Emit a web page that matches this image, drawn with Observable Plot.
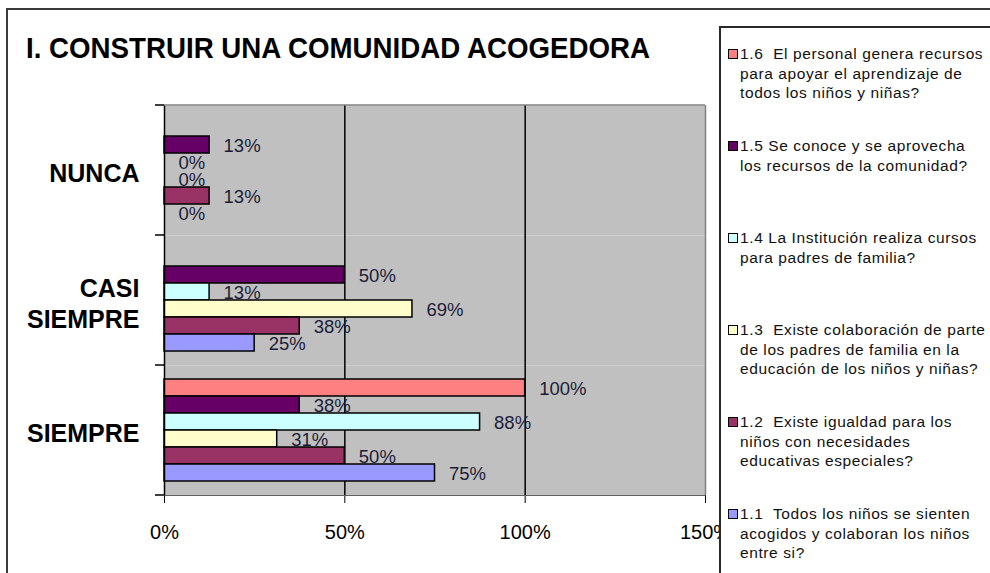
<!DOCTYPE html>
<html>
<head>
<meta charset="utf-8">
<script src="https://cdn.jsdelivr.net/npm/d3@7"></script>
<script src="https://cdn.jsdelivr.net/npm/@observablehq/plot@0.6"></script>
<style>
  html, body { margin: 0; padding: 0; background: #fff; }
  #wrap { position: relative; width: 990px; height: 573px; overflow: hidden; font-family: "Liberation Sans", Arial, sans-serif; }
  #frame { position: absolute; left: 6px; top: 8px; width: 1100px; height: 700px; border: 2px solid #3a3a3a; }
  #chart { position: absolute; left: 0; top: 0; }
  #title { position: absolute; left: 26px; top: 33px; font-size: 29.5px; line-height: 29px; font-weight: bold; white-space: nowrap; color: #000; transform-origin: 0 0; }
  #legend { position: absolute; left: 719px; top: 26px; width: 400px; height: 700px; border: 2px solid #2a2a2a; background: #fff; }
  .item { position: absolute; left: 0; height: 92px; width: 300px; }
  .item .sw { position: absolute; left: 7px; top: 5px; width: 8px; height: 8px; border: 1px solid #000; }
  .item .tx { position: absolute; left: 19px; top: 0; font-size: 15.5px; line-height: 19.5px; letter-spacing: 0.6px; white-space: pre; color: #111; }
</style>
</head>
<body>
<div id="wrap">
  <div id="frame"></div>
  <div id="chart"></div>
  <div id="title"></div>
  <div id="legend"></div>
</div>
<script>
// ---- data ----
const titleText = "I. CONSTRUIR UNA COMUNIDAD ACOGEDORA";
const categories = ["NUNCA", "CASI SIEMPRE", "SIEMPRE"];
const seriesKeys = ["1.6", "1.5", "1.4", "1.3", "1.2", "1.1"];
const seriesColors = ["#FF8080", "#660066", "#CCFFFF", "#FFFFCC", "#993366", "#9999FF"];
// values per category: NUNCA, CASI SIEMPRE, SIEMPRE (percent)
const values16 = [null, null, 100];
const values15 = [12.5, 50, 37.5];
const values14 = [0, 12.5, 87.5];
const values13 = [0, 68.75, 31.25];
const values12 = [12.5, 37.5, 50];
const values11 = [0, 25, 75];
const seriesValues = [values16, values15, values14, values13, values12, values11];
const xTicks = [0, 50, 100, 150];
const legendLines = [
  ["1.6  El personal genera recursos", "para apoyar el aprendizaje de", "todos los niños y niñas?"],
  ["1.5 Se conoce y se aprovecha", "los recursos de la comunidad?"],
  ["1.4 La Institución realiza cursos", "para padres de familia?"],
  ["1.3  Existe colaboración de parte", "de los padres de familia en la", "educación de los niños y niñas?"],
  ["1.2  Existe igualdad para los", "niños con necesidades", "educativas especiales?"],
  ["1.1  Todos los niños se sienten", "acogidos y colaboran los niños", "entre si?"]
];

// ---- table ----
const rows = [];
categories.forEach((c, i) => {
  seriesKeys.forEach((s, j) => {
    const v = seriesValues[j][i];
    if (v != null) rows.push({category: c, series: s, value: v});
  });
});

const chart = Plot.plot({
  width: 720,
  height: 573,
  marginLeft: 164,
  marginRight: 15,
  marginTop: 105,
  marginBottom: 78,
  style: {background: "transparent", fontFamily: "'Liberation Sans', Arial, sans-serif", fontSize: "20px", color: "#000"},
  x: {domain: [0, 150], ticks: xTicks, tickFormat: d => d + "%", tickSize: 8, tickPadding: 21, line: true, label: null},
  y: {domain: seriesKeys, paddingInner: 0, paddingOuter: 0.78, axis: null},
  fy: {domain: categories, padding: 0, axis: null},
  color: {domain: seriesKeys, range: seriesColors},
  marks: [
    Plot.frame({fill: "#C0C0C0", stroke: "none"}),
    Plot.ruleX(xTicks.filter(t => t > 0 && t < 150), {stroke: "#000", strokeWidth: 1.5}),
    Plot.ruleX([150], {stroke: "#808080", strokeWidth: 1.5}),
    Plot.barX(rows, {fy: "category", y: "series", x: "value", fill: "series", stroke: "#000", strokeWidth: 1.5}),
    Plot.ruleX([0], {stroke: "#000", strokeWidth: 1.5}),
    Plot.text(rows, {fy: "category", y: "series", x: "value", text: d => Math.round(d.value) + "%", dx: 14, dy: 1, textAnchor: "start", fontSize: 18.5, fill: "#1c1c38"}),
    Plot.text(categories, {fy: d => d, text: d => d.replace(" ", "\n"), frameAnchor: "left", dx: -25, dy: 2, textAnchor: "end", fontSize: 25, fontWeight: "bold", lineHeight: 1.24, fill: "#000"})
  ]
});
document.getElementById("chart").appendChild(chart);

// category boundary ticks and top border of plot area, from the plot's scales
try {
  const fy = chart.scale("fy");
  const xs = chart.scale("x");
  const doms = fy.domain;
  const r = fy.range;
  const step = (r[1] - r[0]) / doms.length;
  const pos = c => (fy.apply ? fy.apply(c) : r[0] + doms.indexOf(c) * step);
  const bw = fy.bandwidth != null ? fy.bandwidth : step;
  const x0 = xs.apply ? xs.apply(0) : 164;
  const x1 = xs.apply ? xs.apply(150) : 705;
  const svg = d3.select(chart);
  const g = svg.append("g");
  const bounds = doms.map(pos).concat([pos(doms[doms.length - 1]) + bw]);
  g.selectAll("line.tk").data(bounds).join("line")
    .attr("x1", x0 - 9).attr("x2", x0).attr("y1", d => d).attr("y2", d => d)
    .attr("stroke", "#000").attr("stroke-width", 1.5);
  g.append("line").attr("x1", x0).attr("x2", x1).attr("y1", bounds[0]).attr("y2", bounds[0])
    .attr("stroke", "#808080").attr("stroke-width", 1.5);
} catch (e) { console.error(e); }

// title
const title = document.getElementById("title");
title.textContent = titleText;
const tw = title.getBoundingClientRect().width;
title.style.transform = "scaleX(" + (624 / tw) + ")";

// legend
const legend = document.getElementById("legend");
seriesKeys.forEach((s, i) => {
  const it = document.createElement("div");
  it.className = "item";
  it.style.top = (16 + i * 92) + "px";
  const sw = document.createElement("div");
  sw.className = "sw";
  sw.style.background = seriesColors[i];
  const tx = document.createElement("div");
  tx.className = "tx";
  tx.textContent = legendLines[i].join("\n");
  it.appendChild(sw);
  it.appendChild(tx);
  legend.appendChild(it);
});
</script>
</body>
</html>
